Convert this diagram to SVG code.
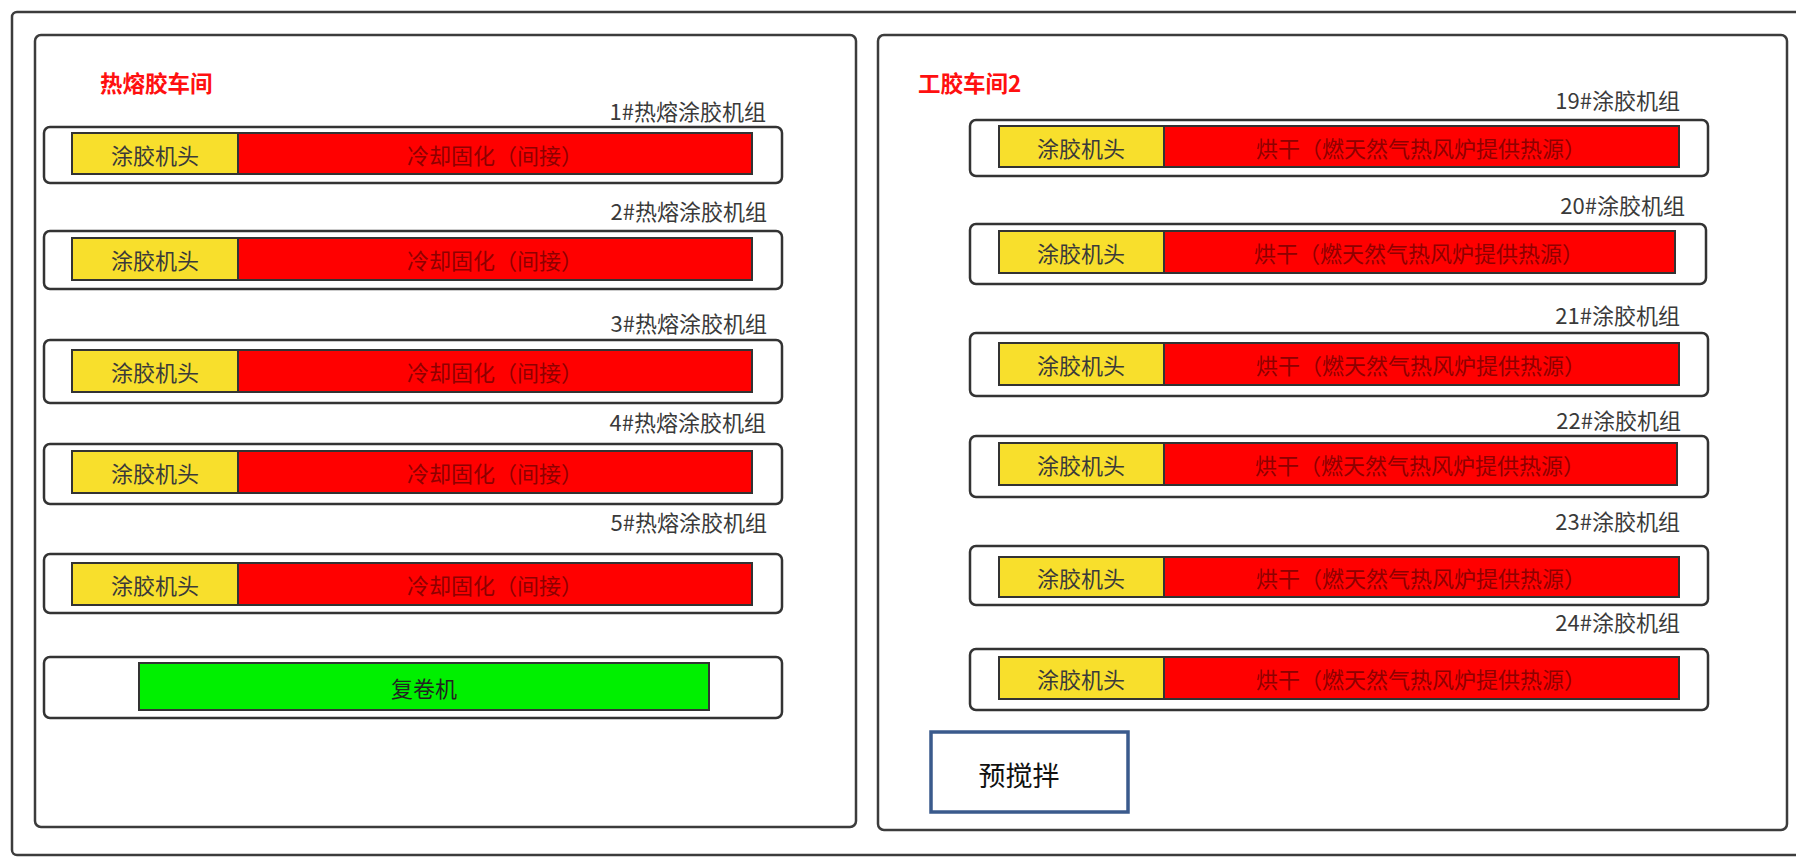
<svg xmlns="http://www.w3.org/2000/svg" width="1796" height="858" viewBox="0 0 1796 858">
<style>
  text { font-family: "Noto Sans CJK SC", "Liberation Sans", sans-serif; dominant-baseline: central; }
  .frame { fill: #ffffff; stroke: #3c3c3c; stroke-width: 2.5; }
  .unit { fill: #ffffff; stroke: #333333; stroke-width: 2.5; }
  .head { fill: #f8df2c; stroke: #333333; stroke-width: 2; }
  .heat { fill: #ff0000; stroke: #333333; stroke-width: 2; }
  .green { fill: #00f000; stroke: #333333; stroke-width: 2; }
  .title { fill: #ff1010; font-size: 22.5px; font-weight: bold; }
  .lbl { fill: #3a3a3a; font-size: 22px; text-anchor: end; }
  .htxt { fill: #3a3a3a; font-size: 22px; text-anchor: middle; }
  .rtxt { fill: #8e0000; font-size: 22px; text-anchor: middle; }
  .gtxt { fill: #222222; font-size: 22px; text-anchor: middle; }
</style>
<rect x="0" y="0" width="1796" height="858" fill="#ffffff"/>
<g id="outer-frame">
  <rect class="frame" x="12" y="12" width="1800" height="843" rx="5"/>
</g>
<g id="left-hall">
  <rect class="frame" x="35" y="35" width="821" height="792" rx="6"/>
  <text class="title" x="100" y="82">热熔胶车间</text>
</g>
<g id="right-hall">
  <rect class="frame" x="878" y="35" width="909" height="795" rx="6"/>
  <text class="title" x="918" y="82">工胶车间2</text>
</g>
<g id="unit-1">
  <text class="lbl" x="766" y="110">1#热熔涂胶机组</text>
  <rect class="unit" x="44" y="127" width="738" height="56" rx="6"/>
  <rect class="head" x="72" y="133" width="166" height="41"/>
  <rect class="heat" x="238" y="133" width="514" height="41"/>
  <text class="htxt" x="155" y="153.5">涂胶机头</text>
  <text class="rtxt" x="495" y="153.5">冷却固化（间接）</text>
</g>
<g id="unit-2">
  <text class="lbl" x="767" y="210">2#热熔涂胶机组</text>
  <rect class="unit" x="44" y="231" width="738" height="58" rx="6"/>
  <rect class="head" x="72" y="238" width="166" height="42"/>
  <rect class="heat" x="238" y="238" width="514" height="42"/>
  <text class="htxt" x="155" y="259">涂胶机头</text>
  <text class="rtxt" x="495" y="259">冷却固化（间接）</text>
</g>
<g id="unit-3">
  <text class="lbl" x="767" y="322">3#热熔涂胶机组</text>
  <rect class="unit" x="44" y="340" width="738" height="63" rx="6"/>
  <rect class="head" x="72" y="350" width="166" height="42"/>
  <rect class="heat" x="238" y="350" width="514" height="42"/>
  <text class="htxt" x="155" y="371">涂胶机头</text>
  <text class="rtxt" x="495" y="371">冷却固化（间接）</text>
</g>
<g id="unit-4">
  <text class="lbl" x="766" y="421">4#热熔涂胶机组</text>
  <rect class="unit" x="44" y="444" width="738" height="60" rx="6"/>
  <rect class="head" x="72" y="451" width="166" height="42"/>
  <rect class="heat" x="238" y="451" width="514" height="42"/>
  <text class="htxt" x="155" y="472">涂胶机头</text>
  <text class="rtxt" x="495" y="472">冷却固化（间接）</text>
</g>
<g id="unit-5">
  <text class="lbl" x="767" y="521">5#热熔涂胶机组</text>
  <rect class="unit" x="44" y="554" width="738" height="59" rx="6"/>
  <rect class="head" x="72" y="563" width="166" height="42"/>
  <rect class="heat" x="238" y="563" width="514" height="42"/>
  <text class="htxt" x="155" y="584">涂胶机头</text>
  <text class="rtxt" x="495" y="584">冷却固化（间接）</text>
</g>
<g id="rewinder">
  <rect class="unit" x="44" y="657" width="738" height="61" rx="6"/>
  <rect class="green" x="139" y="663" width="570" height="47"/>
  <text class="gtxt" x="424" y="687">复卷机</text>
</g>
<g id="unit-19">
  <text class="lbl" x="1680" y="99">19#涂胶机组</text>
  <rect class="unit" x="970" y="120" width="738" height="56" rx="6"/>
  <rect class="head" x="999" y="126" width="165" height="41"/>
  <rect class="heat" x="1164" y="126" width="515" height="41"/>
  <text class="htxt" x="1081" y="146.5">涂胶机头</text>
  <text class="rtxt" x="1421" y="146.5">烘干（燃天然气热风炉提供热源）</text>
</g>
<g id="unit-20">
  <text class="lbl" x="1685" y="204">20#涂胶机组</text>
  <rect class="unit" x="970" y="224" width="736" height="60" rx="6"/>
  <rect class="head" x="999" y="231" width="165" height="42"/>
  <rect class="heat" x="1164" y="231" width="511" height="42"/>
  <text class="htxt" x="1081" y="252">涂胶机头</text>
  <text class="rtxt" x="1419" y="252">烘干（燃天然气热风炉提供热源）</text>
</g>
<g id="unit-21">
  <text class="lbl" x="1680" y="314">21#涂胶机组</text>
  <rect class="unit" x="970" y="333" width="738" height="63" rx="6"/>
  <rect class="head" x="999" y="343" width="165" height="42"/>
  <rect class="heat" x="1164" y="343" width="515" height="42"/>
  <text class="htxt" x="1081" y="364">涂胶机头</text>
  <text class="rtxt" x="1421" y="364">烘干（燃天然气热风炉提供热源）</text>
</g>
<g id="unit-22">
  <text class="lbl" x="1681" y="419">22#涂胶机组</text>
  <rect class="unit" x="970" y="436" width="738" height="61" rx="6"/>
  <rect class="head" x="999" y="443" width="165" height="42"/>
  <rect class="heat" x="1164" y="443" width="513" height="42"/>
  <text class="htxt" x="1081" y="464">涂胶机头</text>
  <text class="rtxt" x="1420" y="464">烘干（燃天然气热风炉提供热源）</text>
</g>
<g id="unit-23">
  <text class="lbl" x="1680" y="520">23#涂胶机组</text>
  <rect class="unit" x="970" y="546" width="738" height="59" rx="6"/>
  <rect class="head" x="999" y="557" width="165" height="40"/>
  <rect class="heat" x="1164" y="557" width="515" height="40"/>
  <text class="htxt" x="1081" y="577">涂胶机头</text>
  <text class="rtxt" x="1421" y="577">烘干（燃天然气热风炉提供热源）</text>
</g>
<g id="unit-24">
  <text class="lbl" x="1680" y="621">24#涂胶机组</text>
  <rect class="unit" x="970" y="649" width="738" height="61" rx="6"/>
  <rect class="head" x="999" y="657" width="165" height="42"/>
  <rect class="heat" x="1164" y="657" width="515" height="42"/>
  <text class="htxt" x="1081" y="678">涂胶机头</text>
  <text class="rtxt" x="1421" y="678">烘干（燃天然气热风炉提供热源）</text>
</g>
<g id="pre-mixing">
  <rect x="931" y="732" width="197" height="80" fill="#ffffff" stroke="#3a5a8c" stroke-width="3.5"/>
  <text x="1019" y="774" fill="#111111" font-size="27" text-anchor="middle">预搅拌</text>
</g>
<g id="connectors"></g>
</svg>
